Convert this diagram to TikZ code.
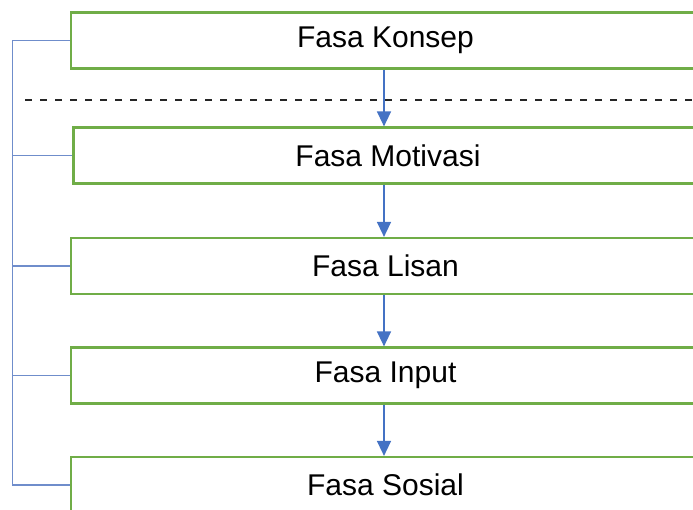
\documentclass[tikz,border=0pt]{standalone}
\usepackage{fontspec}
\setmainfont{Liberation Sans}
\usetikzlibrary{arrows.meta,calc}
\definecolor{boxgreen}{HTML}{70AD47}
\definecolor{railblue}{HTML}{6F8DCB}
\definecolor{arrowblue}{HTML}{4472C4}
\definecolor{dashgrey}{HTML}{262626}
\tikzset{
  phase/.style={draw=boxgreen, line width=2.2pt, fill=white,
    minimum width=629pt, minimum height=56pt, inner sep=0pt,
    font=\fontsize{30}{36}\selectfont, text=black},
  flow/.style={draw=arrowblue, line width=1.4pt,
    -{Triangle[length=15pt,width=14pt]}},
  rail/.style={draw=railblue, line width=1.6pt},
  divider/.style={draw=dashgrey, line width=2pt,
    dash pattern=on 6.5pt off 8.5pt}
}
\begin{document}
\begin{tikzpicture}[x=1pt,y=-1pt]
  \useasboundingbox (0,0) rectangle (693,510);
  \clip (0,0) rectangle (693,510);
  \fill[white] (0,0) rectangle (693,510);

  % phase boxes
  \node[phase] (konsep)   at (385.5,40.5)  {Fasa Konsep};
  \node[phase] (motivasi) at (388.0,155.5) {Fasa Motivasi};
  \node[phase] (lisan)    at (385.5,266.0) {Fasa Lisan};
  \node[phase] (input)    at (385.5,375.5) {Fasa Input};
  \node[phase] (sosial)   at (385.5,485.0) {Fasa Sosial};

  % dashed divider between concept and the following phases
  \coordinate (divL) at (25,100);
  \coordinate (divR) at (700,100);
  \draw[divider] (divL) -- (divR);

  % flow arrows
  \coordinate (ax) at (384,0);
  \draw[flow] (konsep.south -| ax)   -- (motivasi.north -| ax);
  \draw[flow] (motivasi.south -| ax) -- (lisan.north -| ax);
  \draw[flow] (lisan.south -| ax)    -- (input.north -| ax);
  \draw[flow] (input.south -| ax)    -- (sosial.north -| ax);

  % left bracket grouping all phases
  \coordinate (railx) at (12.5,0);
  \draw[rail] (konsep.west) -- (konsep.west -| railx)
              -- (sosial.west -| railx) -- (sosial.west);
  \draw[rail] (motivasi.west) -- (motivasi.west -| railx);
  \draw[rail] (lisan.west)    -- (lisan.west -| railx);
  \draw[rail] (input.west)    -- (input.west -| railx);
\end{tikzpicture}
\end{document}
